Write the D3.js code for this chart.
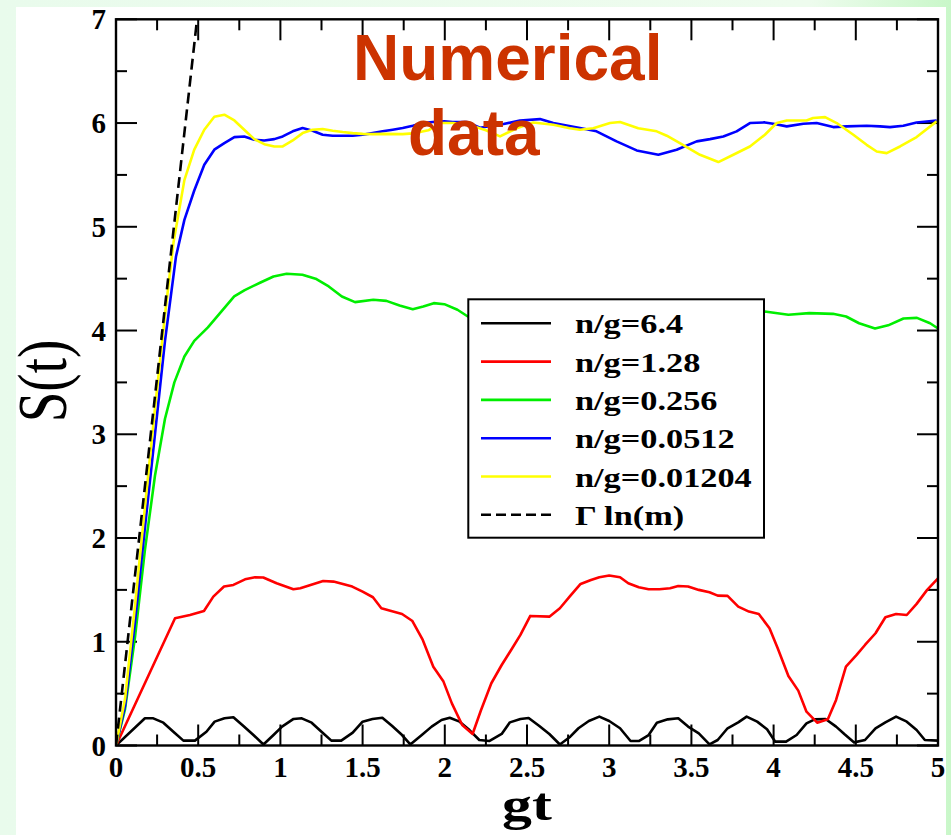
<!DOCTYPE html>
<html>
<head>
<meta charset="utf-8">
<script src="https://cdn.jsdelivr.net/npm/d3@7"></script>
<style>
  html, body { margin: 0; padding: 0; }
  body { width: 951px; height: 835px; overflow: hidden; }
</style>
</head>
<body>
<script>
// Entanglement growth S(t) versus gt for several values of n/g.
const curveBlack = [[0,0],[0.176,0.262],[0.227,0.262],[0.288,0.22],[0.349,0.133],[0.41,0.047],[0.48,0.047],[0.55,0.133],[0.60,0.23],[0.66,0.262],[0.714,0.272],[0.775,0.188],[0.836,0.101],[0.897,0.01],[0.958,0.101],[1.01,0.182],[1.08,0.256],[1.13,0.262],[1.19,0.22],[1.25,0.133],[1.31,0.047],[1.37,0.047],[1.44,0.124],[1.50,0.23],[1.56,0.256],[1.62,0.268],[1.68,0.188],[1.74,0.101],[1.79,0.01],[1.86,0.101],[1.92,0.182],[1.98,0.246],[2.03,0.268],[2.09,0.23],[2.15,0.149],[2.21,0.053],[2.27,0.043],[2.346,0.111],[2.396,0.223],[2.46,0.256],[2.51,0.265],[2.573,0.191],[2.636,0.111],[2.70,0.01],[2.763,0.085],[2.813,0.166],[2.876,0.236],[2.94,0.278],[3.0,0.236],[3.066,0.166],[3.13,0.043],[3.18,0.043],[3.24,0.101],[3.29,0.22],[3.356,0.252],[3.42,0.262],[3.48,0.182],[3.545,0.117],[3.61,0.01],[3.66,0.053],[3.72,0.166],[3.785,0.223],[3.836,0.278],[3.90,0.23],[3.96,0.156],[4.01,0.037],[4.076,0.037],[4.14,0.101],[4.20,0.214],[4.25,0.252],[4.316,0.256],[4.38,0.182],[4.43,0.111],[4.49,0.03],[4.556,0.053],[4.62,0.166],[4.68,0.223],[4.745,0.278],[4.81,0.23],[4.87,0.149],[4.92,0.053],[5.0,0.047]];

const curveRed = [[0,0],[0.359,1.226],[0.45,1.258],[0.535,1.297],[0.592,1.435],[0.657,1.532],[0.714,1.548],[0.785,1.602],[0.846,1.622],[0.896,1.619],[0.977,1.564],[1.079,1.506],[1.121,1.516],[1.26,1.586],[1.323,1.58],[1.437,1.532],[1.5,1.483],[1.563,1.429],[1.614,1.323],[1.74,1.268],[1.803,1.20],[1.866,1.017],[1.93,0.76],[1.992,0.616],[2.043,0.406],[2.106,0.197],[2.169,0.111],[2.22,0.34],[2.283,0.60],[2.346,0.776],[2.41,0.937],[2.46,1.066],[2.52,1.249],[2.636,1.242],[2.70,1.323],[2.763,1.442],[2.826,1.557],[2.889,1.596],[2.94,1.622],[3.0,1.638],[3.066,1.622],[3.116,1.564],[3.18,1.525],[3.24,1.506],[3.305,1.506],[3.37,1.516],[3.42,1.538],[3.48,1.532],[3.545,1.50],[3.61,1.477],[3.66,1.445],[3.72,1.442],[3.785,1.339],[3.85,1.291],[3.91,1.268],[3.975,1.13],[4.025,0.937],[4.09,0.67],[4.15,0.529],[4.2,0.326],[4.265,0.22],[4.33,0.252],[4.38,0.439],[4.44,0.76],[4.505,0.873],[4.556,0.969],[4.62,1.082],[4.68,1.236],[4.745,1.268],[4.81,1.258],[4.87,1.365],[4.934,1.50],[5.0,1.612]];

const curveGreen = [[0,0],[0.055,0.35],[0.116,1.05],[0.176,1.885],[0.237,2.6],[0.298,3.15],[0.355,3.5],[0.416,3.75],[0.476,3.9],[0.559,4.03],[0.639,4.18],[0.719,4.33],[0.783,4.39],[0.879,4.463],[0.958,4.521],[1.038,4.547],[1.134,4.538],[1.214,4.5],[1.294,4.425],[1.374,4.328],[1.454,4.274],[1.565,4.296],[1.645,4.286],[1.725,4.241],[1.805,4.206],[1.869,4.231],[1.933,4.264],[1.997,4.254],[2.077,4.2],[2.14,4.135],[2.25,4.1],[2.4,4.15],[2.6,4.2],[2.8,4.15],[3.0,4.2],[3.2,4.18],[3.4,4.15],[3.6,4.2],[3.8,4.17],[3.946,4.184],[4.09,4.152],[4.217,4.168],[4.361,4.161],[4.441,4.135],[4.52,4.07],[4.617,4.02],[4.697,4.05],[4.79,4.116],[4.872,4.122],[4.952,4.07],[5.0,4.02]];

const curveBlue = [[0,0],[0.055,0.38],[0.116,1.2],[0.176,2.1],[0.237,3.0],[0.298,3.9],[0.365,4.714],[0.416,5.067],[0.476,5.35],[0.537,5.598],[0.598,5.743],[0.659,5.807],[0.72,5.864],[0.78,5.871],[0.841,5.839],[0.902,5.832],[0.963,5.845],[1.014,5.871],[1.075,5.92],[1.135,5.952],[1.196,5.926],[1.257,5.887],[1.318,5.877],[1.44,5.877],[1.5,5.887],[1.561,5.903],[1.622,5.92],[1.683,5.935],[1.744,5.952],[1.805,5.974],[1.865,6.0],[1.926,6.01],[1.997,6.016],[2.048,6.01],[2.133,6.01],[2.214,5.955],[2.357,5.99],[2.457,6.025],[2.579,6.038],[2.66,6.0],[2.822,5.952],[2.923,5.92],[3.045,5.823],[3.167,5.736],[3.299,5.694],[3.41,5.742],[3.532,5.823],[3.613,5.845],[3.694,5.871],[3.775,5.92],[3.856,6.0],[3.947,6.006],[3.998,5.993],[4.08,5.968],[4.181,5.993],[4.262,6.0],[4.363,5.961],[4.444,5.968],[4.566,5.974],[4.647,5.968],[4.708,5.961],[4.789,5.974],[4.87,6.006],[4.992,6.025]];

const curveYellow = [[0,0],[0.055,0.45],[0.116,1.35],[0.176,2.3],[0.237,3.25],[0.298,4.15],[0.35,4.85],[0.416,5.45],[0.476,5.743],[0.537,5.935],[0.598,6.06],[0.659,6.08],[0.72,6.025],[0.78,5.935],[0.841,5.845],[0.902,5.796],[0.963,5.774],[1.014,5.774],[1.075,5.832],[1.135,5.903],[1.196,5.935],[1.257,5.942],[1.318,5.926],[1.379,5.913],[1.44,5.903],[1.5,5.896],[1.561,5.893],[1.622,5.896],[1.744,5.893],[1.805,5.9],[1.90,5.93],[1.971,6.0],[2.05,6.0],[2.153,5.98],[2.25,5.93],[2.336,5.871],[2.437,5.95],[2.538,6.006],[2.66,5.984],[2.76,5.95],[2.822,5.935],[2.903,5.95],[3.005,6.0],[3.066,6.01],[3.177,5.95],[3.289,5.92],[3.35,5.878],[3.43,5.806],[3.552,5.694],[3.664,5.624],[3.755,5.694],[3.856,5.774],[3.947,5.887],[4.019,6.0],[4.08,6.025],[4.2,6.025],[4.24,6.048],[4.313,6.057],[4.384,6.0],[4.485,5.887],[4.566,5.79],[4.627,5.726],[4.688,5.71],[4.769,5.774],[4.87,5.865],[4.992,6.016]];

// Linear reference Γ ln(m)
const gammaLine = [[0,0],[0.493,7.0]];

const seriesNames = ["n/g=6.4","n/g=1.28","n/g=0.256","n/g=0.0512","n/g=0.01204","Γ ln(m)"];
const seriesColors = ["#000000","#ff0000","#00ee00","#0000ff","#ffff00","#000000"];
const xTickValues = [0,0.5,1,1.5,2,2.5,3,3.5,4,4.5,5];
const xTickLabels = ["0","0.5","1","1.5","2","2.5","3","3.5","4","4.5","5"];
const yTickValues = [0,1,2,3,4,5,6,7];
const yTickLabels = ["0","1","2","3","4","5","6","7"];

const W = 951, H = 835;
const plot = {left: 116, right: 938, top: 19.3, bottom: 745.5};
const serif = "'Liberation Serif','Times New Roman',serif";

const svg = d3.select("body").append("svg")
  .attr("width", W).attr("height", H);

const defs = svg.append("defs");
const bg = defs.append("linearGradient").attr("id", "bgGrad")
  .attr("x1", "0").attr("x2", "1").attr("y1", "0").attr("y2", "0");
bg.append("stop").attr("offset", "0").attr("stop-color", "#e9fbec");
bg.append("stop").attr("offset", "0.85").attr("stop-color", "#eefcee");
bg.append("stop").attr("offset", "1").attr("stop-color", "#c9f7c9");

svg.append("rect").attr("width", W).attr("height", H).attr("fill", "url(#bgGrad)");
svg.append("rect").attr("x", 16).attr("y", 7).attr("width", 930).attr("height", H - 7)
  .attr("fill", "#ffffff");

const x = d3.scaleLinear().domain([0, 5]).range([plot.left, plot.right]);
const y = d3.scaleLinear().domain([0, 7]).range([plot.bottom, plot.top]);

defs.append("clipPath").attr("id", "plotClip").append("rect")
  .attr("x", plot.left).attr("y", plot.top)
  .attr("width", plot.right - plot.left).attr("height", plot.bottom - plot.top);

// Ticks, pointing inward on all four sides
const majorLen = 21, minorLen = 11;
const ticks = svg.append("g").attr("stroke", "#000").attr("stroke-width", 2);
const xMinor = d3.range(0.25, 5, 0.5);
const yMinor = d3.range(0.5, 7, 1);
xTickValues.forEach(v => {
  ticks.append("line").attr("x1", x(v)).attr("x2", x(v)).attr("y1", plot.bottom).attr("y2", plot.bottom - majorLen);
  ticks.append("line").attr("x1", x(v)).attr("x2", x(v)).attr("y1", plot.top).attr("y2", plot.top + majorLen);
});
xMinor.forEach(v => {
  ticks.append("line").attr("x1", x(v)).attr("x2", x(v)).attr("y1", plot.bottom).attr("y2", plot.bottom - minorLen);
  ticks.append("line").attr("x1", x(v)).attr("x2", x(v)).attr("y1", plot.top).attr("y2", plot.top + minorLen);
});
yTickValues.forEach(v => {
  ticks.append("line").attr("y1", y(v)).attr("y2", y(v)).attr("x1", plot.left).attr("x2", plot.left + majorLen);
  ticks.append("line").attr("y1", y(v)).attr("y2", y(v)).attr("x1", plot.right).attr("x2", plot.right - majorLen);
});
yMinor.forEach(v => {
  ticks.append("line").attr("y1", y(v)).attr("y2", y(v)).attr("x1", plot.left).attr("x2", plot.left + minorLen);
  ticks.append("line").attr("y1", y(v)).attr("y2", y(v)).attr("x1", plot.right).attr("x2", plot.right - minorLen);
});

// Data curves
const line = d3.line().x(d => x(d[0])).y(d => y(d[1]));
const curves = svg.append("g").attr("clip-path", "url(#plotClip)")
  .attr("fill", "none").attr("stroke-width", 2.6).attr("stroke-linejoin", "round");
const allSeries = [curveBlack, curveRed, curveGreen, curveBlue, curveYellow];
allSeries.forEach((s, i) => {
  curves.append("path").datum(s).attr("d", line).attr("stroke", seriesColors[i]);
});
curves.append("path").datum(gammaLine).attr("d", line)
  .attr("stroke", "#000").attr("stroke-dasharray", "11,6");

// Frame
svg.append("rect").attr("x", plot.left).attr("y", plot.top)
  .attr("width", plot.right - plot.left).attr("height", plot.bottom - plot.top)
  .attr("fill", "none").attr("stroke", "#000").attr("stroke-width", 2.4);

// Tick labels
const labels = svg.append("g").attr("font-family", serif).attr("font-weight", "bold")
  .attr("font-size", 29).attr("fill", "#000");
xTickValues.forEach((v, i) => {
  labels.append("text").attr("x", x(v)).attr("y", 777)
    .attr("text-anchor", "middle").text(xTickLabels[i]);
});
yTickValues.forEach((v, i) => {
  labels.append("text").attr("x", 106).attr("y", y(v) + 10)
    .attr("text-anchor", "end").text(yTickLabels[i]);
});

// Axis titles
svg.append("g").attr("transform", "translate(66,381) scale(1.27,1) rotate(-90)")
  .append("text").attr("text-anchor", "middle")
  .attr("font-family", serif).attr("font-size", 55).attr("fill", "#000")
  .text("S(t)");
svg.append("g").attr("transform", "translate(527,820) scale(1.3,1)")
  .append("text").attr("text-anchor", "middle")
  .attr("font-family", serif).attr("font-weight", "bold").attr("font-size", 46).attr("fill", "#000")
  .text("gt");

// Legend
const leg = {x: 468.3, y: 299.3, w: 295.7, h: 238.4, row0: 323.3, step: 38.3};
svg.append("rect").attr("x", leg.x).attr("y", leg.y).attr("width", leg.w).attr("height", leg.h)
  .attr("fill", "#fff").attr("stroke", "#000").attr("stroke-width", 2);
seriesNames.forEach((name, i) => {
  const ly = leg.row0 + i * leg.step;
  svg.append("line").attr("x1", 481).attr("x2", 551).attr("y1", ly).attr("y2", ly)
    .attr("stroke", seriesColors[i]).attr("stroke-width", 2.6)
    .attr("stroke-dasharray", i === 5 ? "10,5" : null);
  svg.append("g").attr("transform", `translate(575,${ly + 10}) scale(1.27,1)`)
    .append("text").attr("font-family", serif).attr("font-weight", "bold")
    .attr("font-size", 27).attr("fill", "#000").text(name);
});

// Annotation
const note = svg.append("g").attr("font-family", "'Liberation Sans',Arial,Helvetica,sans-serif")
  .attr("font-weight", "bold").attr("font-size", 64).attr("fill", "#cc3300");
note.append("text").attr("x", 353).attr("y", 80).text("Numerical");
note.append("text").attr("x", 408).attr("y", 155).text("data");
</script>
</body>
</html>
